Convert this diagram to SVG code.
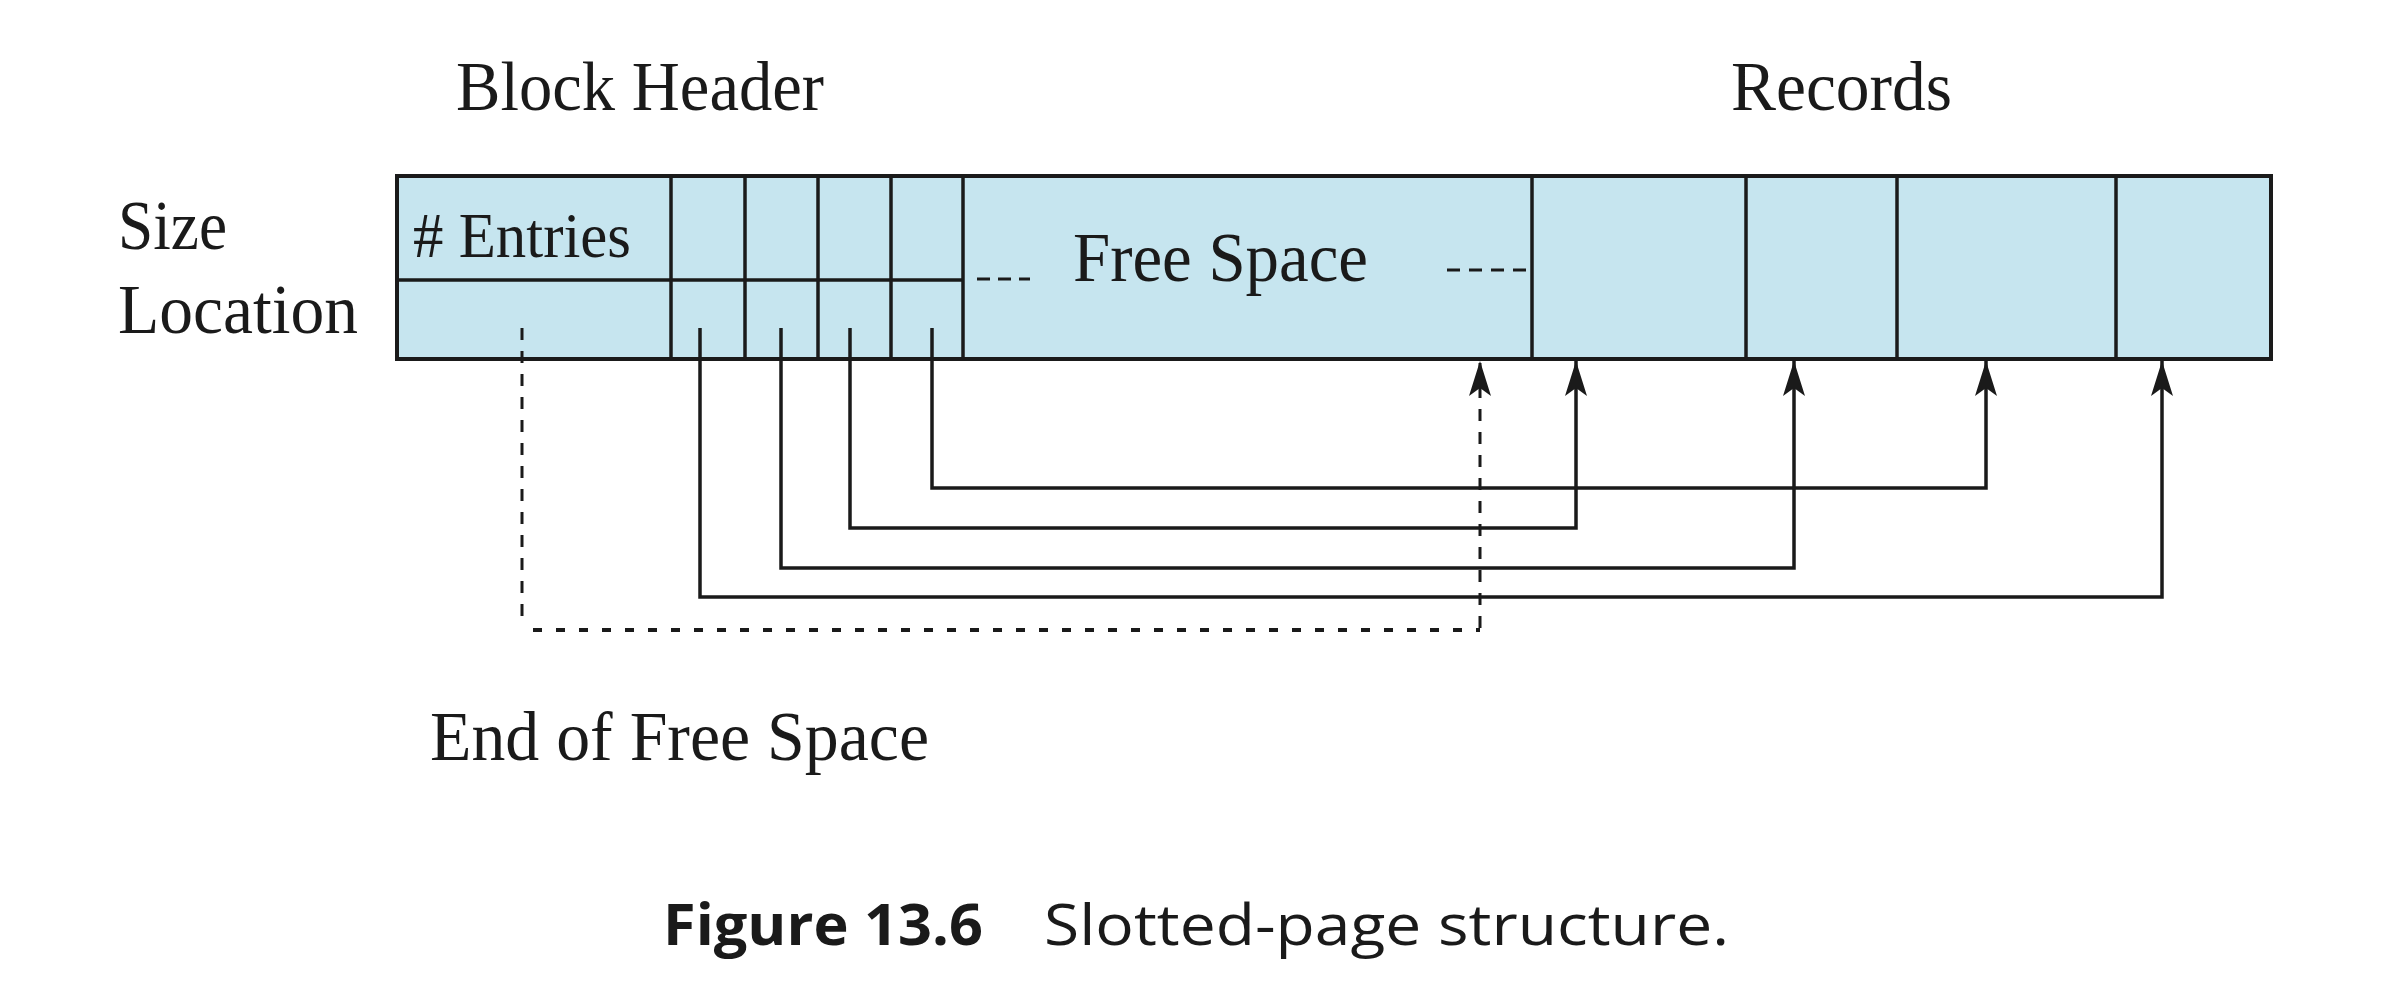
<svg xmlns="http://www.w3.org/2000/svg" width="2404" height="1000" viewBox="0 0 2404 1000">
<style>
.t{font-family:"Liberation Serif","Times New Roman",serif;font-size:70px;fill:#1a1a1a}
.cell{fill:#c6e5ef;stroke:#1a1a1a;stroke-width:4}
.div{stroke:#1a1a1a;stroke-width:3.5;fill:none}
.con{stroke:#1a1a1a;stroke-width:3.5;fill:none}
.dash{stroke:#1a1a1a;stroke-width:3;fill:none;stroke-dasharray:12 11}
.dot{stroke:#1a1a1a;stroke-width:4;fill:none;stroke-dasharray:9 14}
.cap{font-family:"Open Sans","Noto Sans",sans-serif;font-size:57px;fill:#1a1a1a}
</style>
<defs>
<marker id="ah" viewBox="0 0 35 22" refX="35" refY="11" markerWidth="35" markerHeight="22" markerUnits="userSpaceOnUse" orient="auto">
<path d="M0,0 L35,11 L0,22 L8,11 Z" fill="#1a1a1a"/>
</marker>
</defs>
<rect width="2404" height="1000" fill="#ffffff"/>

<g id="labels">
<text class="t" x="456" y="110" textLength="368" lengthAdjust="spacingAndGlyphs">Block Header</text>
<text class="t" x="1731" y="110" textLength="221" lengthAdjust="spacingAndGlyphs">Records</text>
<text class="t" x="118" y="249" textLength="109" lengthAdjust="spacingAndGlyphs">Size</text>
<text class="t" x="118" y="333" textLength="240" lengthAdjust="spacingAndGlyphs">Location</text>
<text class="t" x="430" y="760" textLength="499" lengthAdjust="spacingAndGlyphs">End of Free Space</text>
</g>

<g id="page">
<rect class="cell" x="397" y="176" width="1874" height="183"/>
</g>

<g id="header-entries">
<line class="div" x1="397" y1="280" x2="963" y2="280"/>
<text class="t" x="413" y="257" style="font-size:63px" textLength="218" lengthAdjust="spacingAndGlyphs"># Entries</text>
</g>
<g id="header-slots">
<line class="div" x1="671" y1="176" x2="671" y2="359"/>
<line class="div" x1="745" y1="176" x2="745" y2="359"/>
<line class="div" x1="818" y1="176" x2="818" y2="359"/>
<line class="div" x1="891" y1="176" x2="891" y2="359"/>
<line class="div" x1="963" y1="176" x2="963" y2="359"/>
</g>
<g id="free-space">
<text class="t" x="1073" y="281" textLength="295" lengthAdjust="spacingAndGlyphs">Free Space</text>
<line class="dash" x1="977" y1="279" x2="1030" y2="279" style="stroke-dasharray:13 8"/>
<line class="dash" x1="1447" y1="270" x2="1532" y2="270" style="stroke-dasharray:13 9"/>
</g>
<g id="records">
<line class="div" x1="1532" y1="176" x2="1532" y2="359"/>
<line class="div" x1="1746" y1="176" x2="1746" y2="359"/>
<line class="div" x1="1897" y1="176" x2="1897" y2="359"/>
<line class="div" x1="2116" y1="176" x2="2116" y2="359"/>
</g>

<g id="connectors">
<line class="dash" x1="522" y1="328" x2="522" y2="626"/>
<line class="dot" x1="533" y1="630" x2="1480" y2="630"/>
<line class="dash" x1="1480" y1="628" x2="1480" y2="361" marker-end="url(#ah)"/>
<path class="con" d="M932,328 V488 H1986 V361" marker-end="url(#ah)"/>
<path class="con" d="M850,328 V528 H1576 V361" marker-end="url(#ah)"/>
<path class="con" d="M781,328 V568 H1794 V361" marker-end="url(#ah)"/>
<path class="con" d="M700,328 V597 H2162 V361" marker-end="url(#ah)"/>
</g>

<g id="caption">
<text class="cap" x="663" y="945" font-weight="bold" textLength="320" lengthAdjust="spacingAndGlyphs">Figure 13.6</text>
<text class="cap" x="1044" y="945" textLength="685" lengthAdjust="spacingAndGlyphs">Slotted-page structure.</text>
</g>
</svg>
